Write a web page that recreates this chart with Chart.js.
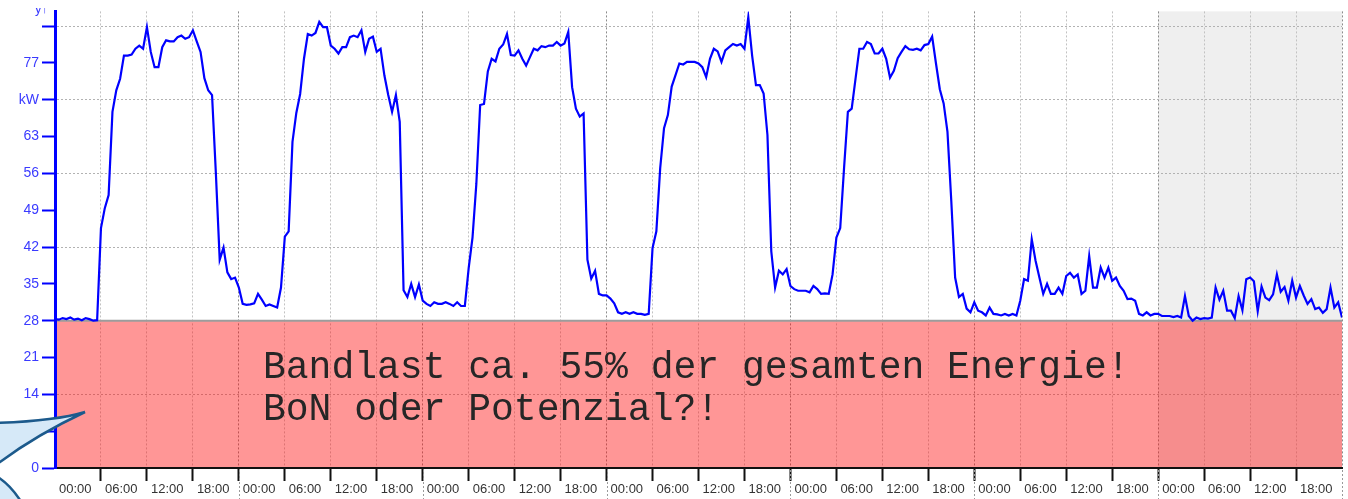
<!DOCTYPE html>
<html>
<head>
<meta charset="utf-8">
<script src="https://cdn.jsdelivr.net/npm/chart.js@4.4.1/dist/chart.umd.min.js"></script>
<style>
  html, body { margin: 0; padding: 0; background: #fff; }
  #wrap { width: 1348px; height: 499px; }
</style>
</head>
<body>
<div id="wrap"><canvas id="chart" width="1348" height="499"></canvas></div>
<script>
// load in kW, one value every 30 minutes, one array per day
const day1 = [28.3, 28.2, 28.5, 28.3, 28.6, 28.2, 28.4, 28.1, 28.5, 28.3, 28.0, 28.1,
  45.6, 49.4, 51.9, 67.7, 71.8, 74.0, 78.4, 78.4, 78.6, 79.7, 80.3, 79.7,
  83.8, 79.1, 76.2, 76.2, 80.0, 81.3, 81.1, 81.1, 81.9, 82.2, 81.6, 81.9,
  83.2, 81.1, 79.1, 74.1, 71.8, 70.9, 56.0, 39.6, 41.9, 37.2, 35.9, 36.2];
const day2 = [34.3, 31.2, 31.0, 31.1, 31.3, 33.1, 32.0, 30.8, 31.1, 30.8, 30.5, 34.3,
  44.0, 45.0, 62.0, 67.5, 71.1, 77.8, 82.5, 82.2, 82.7, 84.8, 83.8, 83.8,
  80.3, 79.7, 78.8, 80.0, 80.0, 81.9, 82.2, 81.9, 83.2, 79.1, 81.6, 82.0,
  79.1, 79.7, 74.6, 70.9, 67.7, 70.9, 65.8, 33.8, 32.5, 35.0, 32.5, 34.9];
const day3 = [31.8, 31.2, 30.8, 31.5, 31.2, 31.2, 31.5, 31.2, 30.8, 31.5, 30.8, 30.8,
  38.0, 43.8, 54.0, 69.0, 69.2, 75.4, 77.8, 77.3, 79.7, 80.5, 82.5, 78.5,
  78.4, 79.4, 77.8, 76.5, 78.1, 79.7, 79.4, 80.2, 80.0, 80.3, 80.3, 81.0,
  80.3, 80.7, 82.9, 72.4, 68.3, 66.8, 67.4, 39.6, 36.0, 37.5, 33.1, 32.8];
const day4 = [32.8, 32.2, 31.3, 29.6, 29.3, 29.6, 29.3, 29.6, 29.3, 29.3, 29.1, 29.3,
  41.8, 45.0, 57.0, 64.6, 67.1, 72.5, 74.7, 76.9, 76.7, 77.2, 77.2, 77.2,
  76.9, 76.2, 74.3, 77.8, 79.7, 79.2, 77.2, 79.4, 80.0, 80.6, 80.3, 80.6,
  79.7, 85.7, 78.4, 72.8, 72.8, 71.2, 63.3, 41.2, 34.3, 37.5, 36.8, 37.8];
const day5 = [34.6, 34.0, 33.7, 33.7, 33.7, 33.4, 34.6, 34.0, 33.1, 33.2, 33.1, 36.8,
  43.8, 45.6, 57.0, 67.7, 68.3, 74.0, 79.7, 79.7, 81.0, 80.6, 78.8, 78.8,
  79.7, 77.8, 74.2, 75.5, 77.9, 79.1, 80.2, 79.6, 79.5, 79.7, 79.4, 80.4,
  80.6, 82.0, 76.9, 72.0, 69.3, 63.9, 50.7, 36.2, 32.5, 33.1, 30.3, 29.6];
const day6 = [31.5, 29.9, 29.6, 29.0, 30.5, 29.3, 29.2, 29.0, 29.3, 29.0, 29.3, 29.0,
  31.8, 35.9, 35.6, 43.5, 39.4, 36.2, 33.1, 35.0, 33.1, 33.1, 34.3, 33.1,
  36.5, 37.1, 36.2, 36.8, 33.1, 33.7, 40.3, 34.3, 34.3, 38.1, 36.2, 38.1,
  35.6, 36.2, 34.6, 33.7, 32.1, 32.2, 31.8, 29.3, 29.0, 29.6, 29.0, 29.3];
const day7 = [29.3, 28.9, 28.9, 28.9, 28.7, 28.9, 28.6, 32.7, 28.9, 28.0, 28.6, 28.3,
  28.5, 28.4, 28.6, 34.3, 32.0, 33.7, 29.9, 29.9, 28.5, 32.7, 30.0, 35.9,
  36.2, 35.5, 29.8, 34.5, 32.4, 31.9, 33.0, 36.8, 33.5, 34.4, 31.8, 35.6,
  32.4, 34.6, 32.8, 31.2, 32.1, 30.2, 30.5, 29.5, 30.2, 34.3, 30.5, 31.5];
const lastValue = 28.6;

const stepHours = 0.5;
const xTickValues = [0, 6, 12, 18, 24, 30, 36, 42, 48, 54, 60, 66, 72, 78, 84, 90, 96,
  102, 108, 114, 120, 126, 132, 138, 144, 150, 156, 162, 168];
const hourLabels = ['00:00', '06:00', '12:00', '18:00'];
const yTickValues = [0, 7, 14, 21, 28, 35, 42, 49, 56, 63, 70, 77, 84];
const yTickLabels = ['0', '7', '14', '21', '28', '35', '42', '49', '56', '63', 'kW', '77', ''];
const baseLoad = 28;
const weekendFrom = 144;
const noteLines = ['Bandlast ca. 55% der gesamten Energie!', 'BoN oder Potenzial?!'];

const days = [day1, day2, day3, day4, day5, day6, day7];
const points = [];
days.forEach((d, di) => {
  d.forEach((v, i) => points.push({ x: di * 24 + i * stepHours, y: v }));
});
points.push({ x: days.length * 24, y: lastValue });

const decor = {
  id: 'decor',
  beforeDraw(chart) {
    const { ctx, chartArea: a, scales: { x } } = chart;
    const gx = x.getPixelForValue(weekendFrom);
    ctx.save();
    ctx.fillStyle = '#efefef';
    ctx.fillRect(gx, a.top, a.right - gx, a.bottom - a.top);
    ctx.restore();
  },
  beforeDatasetsDraw(chart) {
    const { ctx, chartArea: a, scales: { y } } = chart;
    const yb = y.getPixelForValue(baseLoad);
    const y0 = y.getPixelForValue(0);
    ctx.save();
    ctx.fillStyle = 'rgba(255, 12, 12, 0.43)';
    ctx.fillRect(a.left, yb, a.right - a.left, y0 - yb);
    ctx.strokeStyle = '#9c9c9c';
    ctx.lineWidth = 2;
    ctx.beginPath();
    ctx.moveTo(a.left, yb);
    ctx.lineTo(a.right, yb);
    ctx.stroke();
    ctx.restore();
  },
  afterDatasetsDraw(chart) {
    const { ctx, chartArea: a, scales: { y } } = chart;
    const yb = y.getPixelForValue(baseLoad);
    ctx.save();
    ctx.fillStyle = '#262626';
    ctx.font = '38px "Liberation Mono", "Courier New", monospace';
    ctx.textBaseline = 'alphabetic';
    ctx.fillText(noteLines[0], a.left + 208, yb + 57);
    ctx.fillText(noteLines[1], a.left + 208, yb + 99);
    ctx.restore();
  },
  afterDraw(chart) {
    const { ctx, chartArea: a, scales: { x } } = chart;
    ctx.save();
    // day separators continue through the label row
    ctx.strokeStyle = '#9a9a9a';
    ctx.lineWidth = 1;
    ctx.setLineDash([2, 2]);
    for (let t = 24; t <= 168; t += 24) {
      const px = Math.round(x.getPixelForValue(t)) + 0.5;
      ctx.beginPath();
      ctx.moveTo(px, a.bottom + 2);
      ctx.lineTo(px, chart.height);
      ctx.stroke();
    }
    ctx.setLineDash([]);

    // clipped axis caption at the top
    ctx.save();
    ctx.beginPath();
    ctx.rect(0, 8, 60, 20);
    ctx.clip();
    ctx.fillStyle = '#3a3aff';
    ctx.font = '13px "Liberation Sans", Arial, sans-serif';
    ctx.fillText('y\u2191', 35, 13);
    ctx.restore();

    // speech bubble tail
    ctx.fillStyle = '#d6e9f8';
    ctx.strokeStyle = '#1c5a8c';
    ctx.lineWidth = 2.5;
    ctx.beginPath();
    ctx.moveTo(-4, 423);
    ctx.quadraticCurveTo(55, 421, 85, 412);
    ctx.quadraticCurveTo(34, 436, -4, 465);
    ctx.closePath();
    ctx.fill();
    ctx.beginPath();
    ctx.moveTo(-4, 423);
    ctx.quadraticCurveTo(55, 421, 85, 412);
    ctx.quadraticCurveTo(34, 436, -4, 465);
    ctx.stroke();

    ctx.beginPath();
    ctx.moveTo(-4, 476);
    ctx.quadraticCurveTo(10, 484, 22, 503);
    ctx.lineTo(-4, 503);
    ctx.closePath();
    ctx.fill();
    ctx.beginPath();
    ctx.moveTo(-4, 476);
    ctx.quadraticCurveTo(10, 484, 22, 503);
    ctx.stroke();
    ctx.restore();
  }
};

new Chart(document.getElementById('chart'), {
  type: 'line',
  data: {
    datasets: [{
      data: points,
      borderColor: '#0000ff',
      borderWidth: 2.2,
      pointRadius: 0,
      tension: 0,
      fill: false
    }]
  },
  options: {
    responsive: false,
    animation: false,
    layout: { padding: { top: 10, right: 6, left: 0, bottom: 0 } },
    plugins: { legend: { display: false }, tooltip: { enabled: false } },
    scales: {
      x: {
        type: 'linear',
        min: 0,
        max: 168,
        afterBuildTicks: s => { s.ticks = xTickValues.map(v => ({ value: v })); },
        afterFit: s => { s.height = 31; },
        grid: {
          color: c => (c.tick && c.tick.value % 24 === 0) ? '#8c8c8c' : '#c2c2c2',
          lineWidth: 1,
          tickLength: 13,
          tickWidth: 2,
          tickColor: c => (c.tick && (c.tick.value === 0 || c.tick.value === 168)) ? 'rgba(0,0,0,0)' : '#111'
        },
        border: { display: true, color: '#111', width: 2, dash: [2, 2], z: 1 },
        ticks: {
          align: 'start',
          labelOffset: 4,
          padding: 1,
          maxRotation: 0,
          autoSkip: false,
          color: '#333',
          font: { family: 'Liberation Sans', size: 13 },
          callback: v => v >= 168 ? '' : hourLabels[(v % 24) / 6]
        }
      },
      y: {
        min: 0,
        max: 86.8,
        afterBuildTicks: s => { s.ticks = yTickValues.map(v => ({ value: v })); },
        afterFit: s => { s.width = 55; },
        grid: {
          color: c => (c.tick && c.tick.value > 0 && c.tick.value % 14 === 0) ? '#b2b2b2' : 'rgba(0,0,0,0)',
          lineWidth: 1,
          tickLength: 13,
          tickWidth: 2,
          tickColor: '#0000ff'
        },
        border: { display: true, color: '#0000ff', width: 3, dash: [2, 2], z: 1 },
        ticks: {
          padding: 3,
          color: '#3a3aff',
          font: { family: 'Liberation Sans', size: 14 },
          callback: (v, i) => yTickLabels[i]
        }
      }
    }
  },
  plugins: [decor]
});
</script>
</body>
</html>
